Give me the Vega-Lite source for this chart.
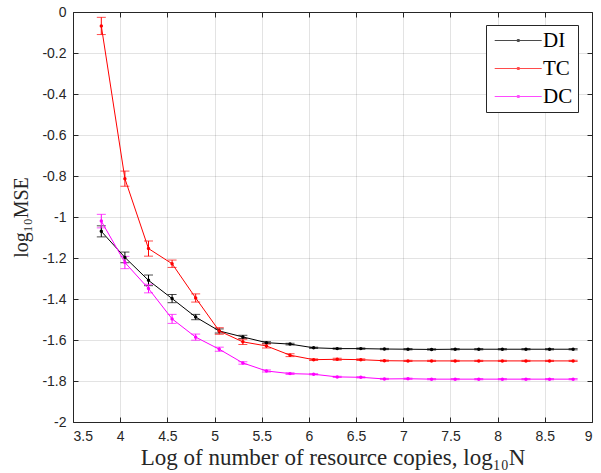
{
  "$schema": "https://vega.github.io/schema/vega-lite/v6.json",
  "width": 519,
  "height": 410,
  "autosize": {"type": "none"},
  "padding": {"left": 73, "top": 12, "right": 9, "bottom": 51},
  "background": "white",
  "config": {
    "view": {"stroke": "#262626", "strokeWidth": 1},
    "axis": {
      "labelFont": "Liberation Sans",
      "labelFontSize": 14,
      "labelColor": "#262626",
      "titleFont": "Liberation Serif",
      "titleFontSize": 20,
      "titleFontWeight": "normal",
      "titleColor": "#262626",
      "tickColor": "#262626",
      "tickSize": -5,
      "domain": false,
      "gridColor": "#262626",
      "gridOpacity": 0.13,
      "gridWidth": 1
    }
  },
  "data": {
    "values": [
      {"series": "DI", "x": 3.8, "y": -1.07, "lo": -1.097, "hi": -1.043},
      {"series": "DI", "x": 4.05, "y": -1.197, "lo": -1.223, "hi": -1.171},
      {"series": "DI", "x": 4.3, "y": -1.309, "lo": -1.335, "hi": -1.283},
      {"series": "DI", "x": 4.55, "y": -1.398, "lo": -1.418, "hi": -1.378},
      {"series": "DI", "x": 4.8, "y": -1.488, "lo": -1.501, "hi": -1.475},
      {"series": "DI", "x": 5.05, "y": -1.556, "lo": -1.566, "hi": -1.546},
      {"series": "DI", "x": 5.3, "y": -1.585, "lo": -1.593, "hi": -1.577},
      {"series": "DI", "x": 5.55, "y": -1.613, "lo": -1.618, "hi": -1.608},
      {"series": "DI", "x": 5.8, "y": -1.62, "lo": -1.624, "hi": -1.616},
      {"series": "DI", "x": 6.05, "y": -1.638, "lo": -1.641, "hi": -1.635},
      {"series": "DI", "x": 6.3, "y": -1.642, "lo": -1.645, "hi": -1.639},
      {"series": "DI", "x": 6.55, "y": -1.642, "lo": -1.645, "hi": -1.639},
      {"series": "DI", "x": 6.8, "y": -1.644, "lo": -1.647, "hi": -1.641},
      {"series": "DI", "x": 7.05, "y": -1.645, "lo": -1.648, "hi": -1.642},
      {"series": "DI", "x": 7.3, "y": -1.646, "lo": -1.649, "hi": -1.643},
      {"series": "DI", "x": 7.55, "y": -1.645, "lo": -1.648, "hi": -1.642},
      {"series": "DI", "x": 7.8, "y": -1.645, "lo": -1.648, "hi": -1.642},
      {"series": "DI", "x": 8.05, "y": -1.645, "lo": -1.648, "hi": -1.642},
      {"series": "DI", "x": 8.3, "y": -1.645, "lo": -1.648, "hi": -1.642},
      {"series": "DI", "x": 8.55, "y": -1.645, "lo": -1.648, "hi": -1.642},
      {"series": "DI", "x": 8.8, "y": -1.645, "lo": -1.648, "hi": -1.642},
      {"series": "TC", "x": 3.8, "y": -0.068, "lo": -0.11, "hi": -0.026},
      {"series": "TC", "x": 4.05, "y": -0.813, "lo": -0.85, "hi": -0.776},
      {"series": "TC", "x": 4.3, "y": -1.154, "lo": -1.191, "hi": -1.117},
      {"series": "TC", "x": 4.55, "y": -1.228, "lo": -1.246, "hi": -1.21},
      {"series": "TC", "x": 4.8, "y": -1.395, "lo": -1.415, "hi": -1.375},
      {"series": "TC", "x": 5.05, "y": -1.556, "lo": -1.572, "hi": -1.54},
      {"series": "TC", "x": 5.3, "y": -1.609, "lo": -1.622, "hi": -1.596},
      {"series": "TC", "x": 5.55, "y": -1.629, "lo": -1.639, "hi": -1.619},
      {"series": "TC", "x": 5.8, "y": -1.674, "lo": -1.681, "hi": -1.667},
      {"series": "TC", "x": 6.05, "y": -1.696, "lo": -1.7, "hi": -1.692},
      {"series": "TC", "x": 6.3, "y": -1.694, "lo": -1.699, "hi": -1.689},
      {"series": "TC", "x": 6.55, "y": -1.696, "lo": -1.7, "hi": -1.692},
      {"series": "TC", "x": 6.8, "y": -1.701, "lo": -1.704, "hi": -1.698},
      {"series": "TC", "x": 7.05, "y": -1.702, "lo": -1.705, "hi": -1.699},
      {"series": "TC", "x": 7.3, "y": -1.702, "lo": -1.705, "hi": -1.699},
      {"series": "TC", "x": 7.55, "y": -1.702, "lo": -1.705, "hi": -1.699},
      {"series": "TC", "x": 7.8, "y": -1.702, "lo": -1.705, "hi": -1.699},
      {"series": "TC", "x": 8.05, "y": -1.702, "lo": -1.705, "hi": -1.699},
      {"series": "TC", "x": 8.3, "y": -1.702, "lo": -1.705, "hi": -1.699},
      {"series": "TC", "x": 8.55, "y": -1.702, "lo": -1.705, "hi": -1.699},
      {"series": "TC", "x": 8.8, "y": -1.702, "lo": -1.705, "hi": -1.699},
      {"series": "DC", "x": 3.8, "y": -1.02, "lo": -1.053, "hi": -0.987},
      {"series": "DC", "x": 4.05, "y": -1.222, "lo": -1.252, "hi": -1.192},
      {"series": "DC", "x": 4.3, "y": -1.349, "lo": -1.37, "hi": -1.328},
      {"series": "DC", "x": 4.55, "y": -1.497, "lo": -1.519, "hi": -1.475},
      {"series": "DC", "x": 4.8, "y": -1.586, "lo": -1.601, "hi": -1.571},
      {"series": "DC", "x": 5.05, "y": -1.645, "lo": -1.655, "hi": -1.635},
      {"series": "DC", "x": 5.3, "y": -1.712, "lo": -1.718, "hi": -1.706},
      {"series": "DC", "x": 5.55, "y": -1.751, "lo": -1.756, "hi": -1.746},
      {"series": "DC", "x": 5.8, "y": -1.764, "lo": -1.768, "hi": -1.76},
      {"series": "DC", "x": 6.05, "y": -1.767, "lo": -1.77, "hi": -1.764},
      {"series": "DC", "x": 6.3, "y": -1.78, "lo": -1.783, "hi": -1.777},
      {"series": "DC", "x": 6.55, "y": -1.782, "lo": -1.785, "hi": -1.779},
      {"series": "DC", "x": 6.8, "y": -1.79, "lo": -1.793, "hi": -1.787},
      {"series": "DC", "x": 7.05, "y": -1.789, "lo": -1.792, "hi": -1.786},
      {"series": "DC", "x": 7.3, "y": -1.791, "lo": -1.794, "hi": -1.788},
      {"series": "DC", "x": 7.55, "y": -1.791, "lo": -1.794, "hi": -1.788},
      {"series": "DC", "x": 7.8, "y": -1.791, "lo": -1.794, "hi": -1.788},
      {"series": "DC", "x": 8.05, "y": -1.791, "lo": -1.794, "hi": -1.788},
      {"series": "DC", "x": 8.3, "y": -1.791, "lo": -1.794, "hi": -1.788},
      {"series": "DC", "x": 8.55, "y": -1.791, "lo": -1.794, "hi": -1.788},
      {"series": "DC", "x": 8.8, "y": -1.791, "lo": -1.794, "hi": -1.788}
    ]
  },
  "layer": [
    {
      "mark": {"type": "point", "opacity": 0},
      "encoding": {
        "x": {"field": "x", "type": "quantitative", "scale": {"domain": [3.5, 9], "nice": false, "zero": false},
          "axis": {"orient": "top", "values": [3.5, 4, 4.5, 5, 5.5, 6, 6.5, 7, 7.5, 8, 8.5, 9], "labels": false, "grid": false, "title": null}},
        "y": {"field": "y", "type": "quantitative", "scale": {"domain": [-2, 0], "nice": false, "zero": false},
          "axis": {"orient": "right", "values": [-2, -1.8, -1.6, -1.4, -1.2, -1, -0.8, -0.6, -0.4, -0.2, 0], "labels": false, "grid": false, "title": null}}
      }
    },
    {
      "mark": {"type": "errorbar", "ticks": {"size": 9}, "rule": {"strokeWidth": 1}},
      "encoding": {
        "x": {"field": "x", "type": "quantitative",
          "axis": {"orient": "bottom", "values": [3.5, 4, 4.5, 5, 5.5, 6, 6.5, 7, 7.5, 8, 8.5, 9], "grid": true,
            "labelExpr": "toString(datum.value)", "labelPadding": 12,
            "title": "Log of number of resource copies, log₁₀N", "titleFontSize": 23, "titlePadding": 3}},
        "y": {"field": "lo", "type": "quantitative",
          "axis": {"orient": "left", "values": [-2, -1.8, -1.6, -1.4, -1.2, -1, -0.8, -0.6, -0.4, -0.2, 0], "grid": true,
            "labelExpr": "toString(datum.value)", "labelPadding": 12,
            "title": "log₁₀MSE", "titlePadding": 10}},
        "y2": {"field": "hi"},
        "color": {"field": "series", "type": "nominal",
          "scale": {"domain": ["DI", "TC", "DC"], "range": ["#000000", "#ff0000", "#ff00ff"]}}
      }
    },
    {
      "mark": {"type": "line", "strokeWidth": 1},
      "encoding": {
        "x": {"field": "x", "type": "quantitative", "axis": null},
        "y": {"field": "y", "type": "quantitative", "axis": null},
        "color": {"field": "series", "type": "nominal",
          "legend": {
            "orient": "none", "legendX": 413, "legendY": 13,
            "title": null,
            "fillColor": "white", "strokeColor": "#262626",
            "padding": 5,
            "symbolType": "M-1.7,0H10.05M3.95,-0.25h0.5v0.5h-0.5z",
            "symbolSize": 64,
            "symbolStrokeWidth": 1,
            "labelFont": "Liberation Serif",
            "labelFontSize": 21,
            "labelColor": "#000000",
            "labelOffset": 31,
            "rowPadding": 6
          }}
      }
    },
    {
      "mark": {"type": "point", "filled": true, "size": 12, "opacity": 1},
      "encoding": {
        "x": {"field": "x", "type": "quantitative", "axis": null},
        "y": {"field": "y", "type": "quantitative", "axis": null},
        "color": {"field": "series", "type": "nominal"}
      }
    }
  ]
}
